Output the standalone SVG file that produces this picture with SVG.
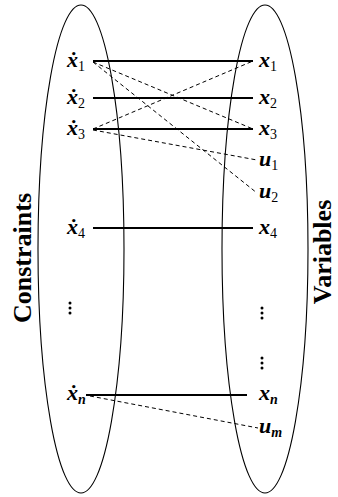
<svg xmlns="http://www.w3.org/2000/svg" width="338" height="497" viewBox="0 0 338 497">
<style>
.ell{fill:none;stroke:#000;stroke-width:1.1}
.edge{stroke:#000;stroke-width:2.2}
.dash{stroke:#000;stroke-width:1;stroke-dasharray:4 3;fill:none}
.m{font-family:"Liberation Serif",serif;font-style:italic;font-weight:bold;font-size:22px;fill:#000}
.s{font-style:normal;font-weight:normal;font-size:14px}
.si{font-style:italic;font-weight:bold;font-size:14px}
.t{font-family:"Liberation Serif",serif;font-weight:bold;font-size:26px;fill:#000}
.dot{fill:#000}
</style>
<g id="constraints-set"><ellipse class="ell" cx="81" cy="249" rx="43" ry="244"/>
<text class="t" text-anchor="middle" transform="translate(31,258) rotate(-90)">Constraints</text></g>
<g id="variables-set"><ellipse class="ell" cx="265" cy="249" rx="43" ry="244"/>
<text class="t" text-anchor="middle" transform="translate(331,252) rotate(-90)">Variables</text></g>
<g id="connectors">
<line class="edge" x1="93" y1="61" x2="253" y2="61"/>
<line class="edge" x1="93" y1="98" x2="253" y2="98"/>
<line class="edge" x1="93" y1="129" x2="253" y2="129"/>
<line class="edge" x1="93" y1="228" x2="253" y2="228"/>
<line class="edge" x1="86" y1="395" x2="247" y2="395"/>
<line class="dash" x1="93" y1="62" x2="253" y2="129"/>
<line class="dash" x1="93" y1="62" x2="257" y2="193"/>
<line class="dash" x1="93" y1="129" x2="253" y2="61"/>
<line class="dash" x1="93" y1="130" x2="257" y2="160"/>
<line class="dash" x1="90" y1="396" x2="258" y2="428"/>
</g>
<g id="xdot1"><text class="m" x="67" y="67">ẋ<tspan class="s" dy="4">1</tspan></text></g>
<g id="xdot2"><text class="m" x="67" y="104">ẋ<tspan class="s" dy="4">2</tspan></text></g>
<g id="xdot3"><text class="m" x="67" y="135">ẋ<tspan class="s" dy="4">3</tspan></text></g>
<g id="xdot4"><text class="m" x="67" y="234">ẋ<tspan class="s" dy="4">4</tspan></text></g>
<g id="xdotn"><text class="m" x="67" y="400">ẋ<tspan class="si" dy="4">n</tspan></text></g>
<g id="vdots-left"><circle class="dot" cx="70" cy="303" r="1.5"/><circle class="dot" cx="70" cy="308" r="1.5"/><circle class="dot" cx="70" cy="313" r="1.5"/></g>
<g id="x1"><text class="m" x="259" y="67">x<tspan class="s" dy="4">1</tspan></text></g>
<g id="x2"><text class="m" x="259" y="104">x<tspan class="s" dy="4">2</tspan></text></g>
<g id="x3"><text class="m" x="259" y="135">x<tspan class="s" dy="4">3</tspan></text></g>
<g id="u1"><text class="m" x="259" y="166">u<tspan class="s" dy="4">1</tspan></text></g>
<g id="u2"><text class="m" x="259" y="198">u<tspan class="s" dy="4">2</tspan></text></g>
<g id="x4"><text class="m" x="259" y="234">x<tspan class="s" dy="4">4</tspan></text></g>
<g id="vdots-right1"><circle class="dot" cx="262" cy="308" r="1.5"/><circle class="dot" cx="262" cy="313" r="1.5"/><circle class="dot" cx="262" cy="318" r="1.5"/></g>
<g id="vdots-right2"><circle class="dot" cx="262" cy="358" r="1.5"/><circle class="dot" cx="262" cy="363" r="1.5"/><circle class="dot" cx="262" cy="368" r="1.5"/></g>
<g id="xn"><text class="m" x="259" y="400">x<tspan class="si" dy="4">n</tspan></text></g>
<g id="um"><text class="m" x="259" y="433">u<tspan class="si" dy="4">m</tspan></text></g>
</svg>
